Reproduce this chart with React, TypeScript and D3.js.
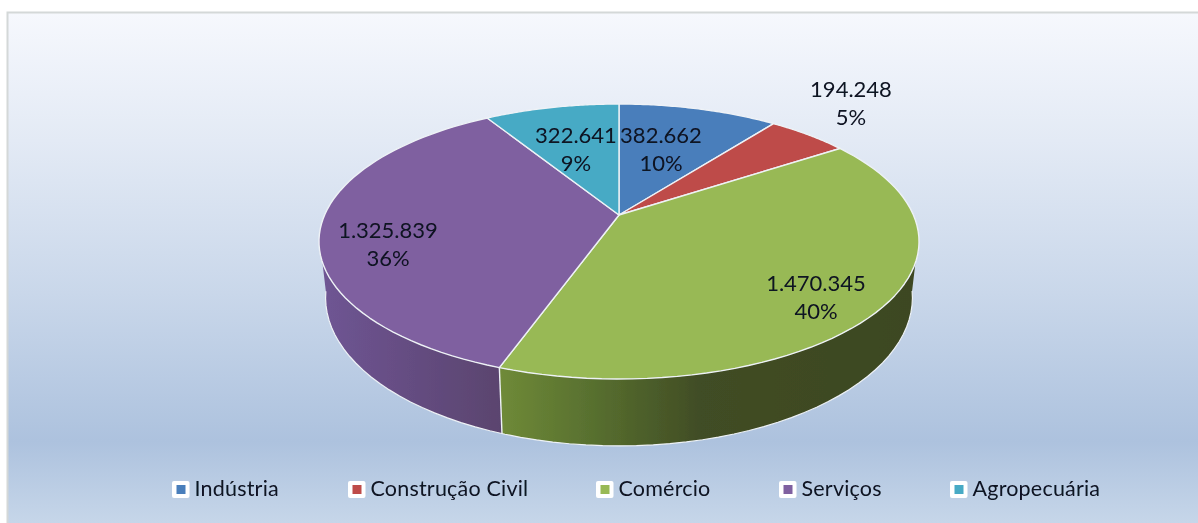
import React from "react";
import * as d3 from "d3";

const categories = ["Indústria", "Construção Civil", "Comércio", "Serviços", "Agropecuária"];
const values = [382662, 194248, 1470345, 1325839, 322641];
const valueLabels = ["382.662", "194.248", "1.470.345", "1.325.839", "322.641"];
const percentLabels = ["10%", "5%", "40%", "36%", "9%"];
const colors = ["#4a7ebb", "#be4b48", "#98b954", "#7f60a0", "#46aac5"];
const labelPos: [number, number][] = [[661, 135], [851, 89], [816, 283], [388, 230], [576, 135]];
const legendX = [175, 351, 599, 782, 953];

const W = 1198, H = 523;
const cx = 619, cy = 215, k = 0.1927, A = 132.4, B = 294.4, D = 54, inset = 0.978;

const project = (t: number): [number, number] => {
  const X = Math.sin(t), Y = Math.cos(t), w = 1 + k * Y;
  return [cx + (B * X) / w, cy - (A * Y) / w];
};
const projectLow = (t: number): [number, number] => {
  const [x, y] = project(t);
  return [cx + (x - cx) * inset, y + D / (1 + k * Math.cos(t))];
};
const samples = (a: number, b: number, f: (t: number) => [number, number]) =>
  d3.range(0, 61).map((i) => f(a + ((b - a) * i) / 60));
const line = d3.line();

const pie = d3.pie<number>().sort(null).startAngle(0).endAngle(2 * Math.PI);
const arcs = pie(values);

export default function App() {
  const greenA = 1.72;
  const greenB = arcs[2].endAngle;
  const purpleA = arcs[3].startAngle;
  const purpleB = 4.56;
  const wallPath = (a: number, b: number) =>
    line([...samples(a, b, project), ...samples(b, a, projectLow)]) + "Z";
  const rim = "#eef2f6";
  return (
    <div style={{ position: "fixed", left: 0, top: 0, width: W, height: H, background: "#fff" }}>
      <svg width={W} height={H} style={{ display: "block" }}>
        <defs>
          <linearGradient id="bg" x1="0" y1="0" x2="0" y2="1">
            <stop offset="0" stopColor="#f6f8fd" />
            <stop offset="0.25" stopColor="#e3eaf5" />
            <stop offset="0.55" stopColor="#c9d7ea" />
            <stop offset="0.84" stopColor="#adc2de" />
            <stop offset="1" stopColor="#c6d6e9" />
          </linearGradient>
          <linearGradient id="wallGreen" gradientUnits="userSpaceOnUse" x1="500" y1="0" x2="915" y2="0">
            <stop offset="0" stopColor="#6f8a38" />
            <stop offset="0.22" stopColor="#58702f" />
            <stop offset="0.48" stopColor="#414d25" />
            <stop offset="1" stopColor="#3c4720" />
          </linearGradient>
          <linearGradient id="wallPurple" gradientUnits="userSpaceOnUse" x1="320" y1="0" x2="503" y2="0">
            <stop offset="0" stopColor="#6f5594" />
            <stop offset="1" stopColor="#5a446e" />
          </linearGradient>
          <filter id="soft" x="-5%" y="-5%" width="110%" height="110%">
            <feGaussianBlur stdDeviation="0.45" />
          </filter>
        </defs>
        <rect x={8} y={13} width={1190} height={510} fill="url(#bg)" />
        <path d="M7.5,523V12.5H1198" fill="none" stroke="#d4d8d8" strokeWidth={2} />
        <g filter="url(#soft)">
          <path d={wallPath(greenA, greenB)} fill="url(#wallGreen)" />
          <path d={wallPath(purpleA, purpleB)} fill="url(#wallPurple)" />
          <path d={line(samples(greenA, purpleB, projectLow))!} fill="none" stroke={rim} strokeWidth={1.2} />
          <path d={line([project(greenB), projectLow(greenB)])!} fill="none" stroke={rim} strokeWidth={1.4} />
          {arcs.map((d, i) => (
            <path
              key={categories[i]}
              d={line([[cx, cy], ...samples(d.startAngle, d.endAngle, project)]) + "Z"}
              fill={colors[i]}
              stroke={rim}
              strokeWidth={1.4}
              strokeLinejoin="round"
            />
          ))}
        </g>
        <g filter="url(#soft)" fontFamily="Lato, Carlito, sans-serif" fontSize={22} fill="#0c1220" textAnchor="middle">
          {labelPos.map(([x, y], i) => (
            <g key={categories[i]}>
              <text x={x} y={y + 8}>{valueLabels[i]}</text>
              <text x={x} y={y + 36}>{percentLabels[i]}</text>
            </g>
          ))}
        </g>
        <g filter="url(#soft)" fontFamily="Lato, Carlito, sans-serif" fontSize={21.5} letterSpacing={0.2}>
          {categories.map((c, i) => (
            <g key={c}>
              <rect x={legendX[i] - 3} y={481} width={17.5} height={17} rx={2} fill="#fff" />
              <rect x={legendX[i] + 1.5} y={485} width={9} height={9} fill={colors[i]} />
              <text x={legendX[i] + 19.5} y={496} fill="#0c1220">{c}</text>
            </g>
          ))}
        </g>
      </svg>
    </div>
  );
}
